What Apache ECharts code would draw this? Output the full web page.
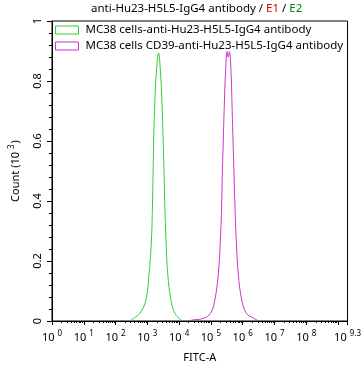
<!DOCTYPE html>
<html>
<head>
<meta charset="utf-8">
<script src="https://cdn.jsdelivr.net/npm/echarts@6/dist/echarts.min.js"></script>
<style>html,body{margin:0;padding:0;background:#fff}#c{width:364px;height:369px}</style>
</head>
<body>
<div id="c"></div>
<script>
// ---- data (x in log10 units of FITC-A, y = count in 10^3) ----
const seriesNames = ['MC38 cells-anti-Hu23-H5L5-IgG4 antibody', 'MC38 cells CD39-anti-Hu23-H5L5-IgG4 antibody'];
const greenLogX = [2.45, 2.567, 2.77, 2.954, 3.057, 3.129, 3.16, 3.18, 3.2, 3.23, 3.282, 3.353, 3.415, 3.466, 3.497, 3.528, 3.549, 3.589, 3.64, 3.742, 3.865, 4.0, 4.1];
const greenY    = [0, 0.009, 0.026, 0.07, 0.159, 0.27, 0.381, 0.492, 0.603, 0.714, 0.826, 0.893, 0.826, 0.714, 0.603, 0.492, 0.381, 0.27, 0.159, 0.07, 0.026, 0.009, 0];
const magentaLogX = [4.3, 4.407, 4.765, 4.99, 5.123, 5.235, 5.297, 5.337, 5.36, 5.39, 5.42, 5.46, 5.51, 5.546, 5.583, 5.635, 5.666, 5.696, 5.727, 5.757, 5.798, 5.859, 5.972, 6.114, 6.35, 6.5];
const magentaY    = [0, 0.003, 0.009, 0.026, 0.07, 0.159, 0.27, 0.381, 0.492, 0.603, 0.714, 0.826, 0.898, 0.88, 0.898, 0.826, 0.714, 0.603, 0.492, 0.381, 0.27, 0.159, 0.07, 0.026, 0.009, 0];
const xMaxExp = 9.3;
const yTicks = [0, 0.2, 0.4, 0.6, 0.8, 1];

const FONT = 'Noto Sans';
const colors = ['#33cc33', '#cc33cc'];
function pairs(lx, ys) { return lx.map((v, i) => [Math.pow(10, v), ys[i]]); }

const chart = echarts.init(document.getElementById('c'), null, {renderer: 'canvas'});
chart.setOption({
  animation: false,
  textStyle: {fontFamily: FONT},
  title: {
    text: '{t|anti-Hu23-H5L5-IgG4 antibody / }{r|E1}{t| / }{g|E2}',
    left: 91, top: 3, padding: 0,
    textStyle: {
      fontWeight: 'normal',
      rich: {
        t: {fontFamily: FONT, fontSize: 11.5, fontWeight: 'normal', color: '#000'},
        r: {fontFamily: FONT, fontSize: 11.5, fontWeight: 'normal', color: '#dd0000'},
        g: {fontFamily: FONT, fontSize: 11.5, fontWeight: 'normal', color: '#008800'}
      }
    }
  },
  legend: {
    orient: 'vertical', left: 55, top: 24, itemGap: 4, padding: [0, 0, 0, 0],
    itemWidth: 23, itemHeight: 8, icon: 'rect',
    textStyle: {fontFamily: FONT, fontSize: 11.5, color: '#000', padding: [0, 0, 0, 2]},
    data: seriesNames.map((n, i) => ({name: n, icon: 'rect', itemStyle: {color: 'rgba(0,0,0,0)', borderColor: colors[i], borderWidth: 1}}))
  },
  grid: {left: 47, right: 14, top: 21, bottom: 48, show: true, borderColor: '#000', borderWidth: 1, backgroundColor: 'transparent'},
  xAxis: {
    type: 'log', logBase: 10, min: 1, max: Math.pow(10, xMaxExp), splitNumber: 10,
    name: 'FITC-A', nameLocation: 'middle', nameGap: 31,
    nameTextStyle: {fontFamily: FONT, fontSize: 11, color: '#000'},
    axisLine: {lineStyle: {color: '#000', width: 1}},
    axisTick: {length: 4, lineStyle: {color: '#000'}},
    minorTick: {show: true, splitNumber: 9, length: 2, lineStyle: {color: '#000'}},
    splitLine: {show: false},
    axisLabel: {
      margin: 8, showMaxLabel: true, hideOverlap: false,
      formatter: function (v) {
        let e = Math.log10(v);
        e = Math.round(e * 10) / 10;
        if (e === 9) return '';
        return '{b|10}{s|' + e + '}';
      },
      rich: {
        b: {fontFamily: FONT, fontSize: 11, color: '#000', verticalAlign: 'bottom', lineHeight: 14},
        s: {fontFamily: FONT, fontSize: 8, color: '#000', verticalAlign: 'bottom', lineHeight: 14, padding: [0, 0, 5, 3]}
      }
    }
  },
  yAxis: {
    type: 'value', min: 0, max: 1, interval: 0.2,
    name: '{n|Count (10}{s|3}{n|)}', nameLocation: 'middle', nameGap: 31, nameRotate: 90,
    nameTextStyle: {
      rich: {
        n: {fontFamily: FONT, fontSize: 11, color: '#000', verticalAlign: 'bottom', lineHeight: 14},
        s: {fontFamily: FONT, fontSize: 8, color: '#000', verticalAlign: 'bottom', lineHeight: 14, padding: [0, 1, 5, 3]}
      }
    },
    axisLine: {show: true, lineStyle: {color: '#000', width: 1}},
    axisTick: {show: true, length: 5, lineStyle: {color: '#000'}},
    minorTick: {show: true, splitNumber: 5, length: 3, lineStyle: {color: '#000'}},
    splitLine: {show: false},
    axisLabel: {
      rotate: 90, margin: 9, fontFamily: FONT, fontSize: 11, color: '#000',
      formatter: function (v) { return yTicks.indexOf(Math.round(v * 10) / 10) >= 0 ? String(Math.round(v * 10) / 10) : ''; }
    }
  },
  series: [
    {name: seriesNames[0], type: 'line', data: pairs(greenLogX, greenY), smooth: 0.4, symbol: 'none', lineStyle: {color: colors[0], width: 1}, itemStyle: {color: colors[0]}},
    {name: seriesNames[1], type: 'line', data: pairs(magentaLogX, magentaY), smooth: 0.4, symbol: 'none', lineStyle: {color: colors[1], width: 1}, itemStyle: {color: colors[1]}}
  ]
});
</script>
</body>
</html>
